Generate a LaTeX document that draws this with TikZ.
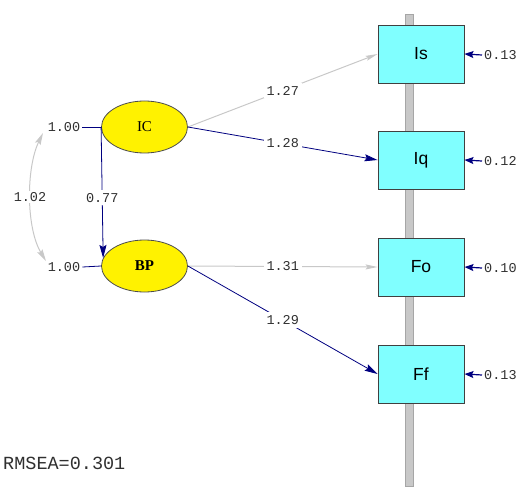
\documentclass[tikz,border=0pt]{standalone}
\usepackage{fontspec}
\setmainfont{Liberation Serif}
\newfontfamily\monof{Liberation Mono}
\newfontfamily\sansf{Liberation Sans}
\usetikzlibrary{arrows.meta,shapes.geometric}
\definecolor{navyc}{HTML}{000080}
\definecolor{lgray}{HTML}{C8C8C8}
\definecolor{txt}{HTML}{303030}
\definecolor{boxfill}{HTML}{80FFFF}
\definecolor{ellfill}{HTML}{FFF200}
\begin{document}
\begin{tikzpicture}[x=1pt,y=-1pt,
  lat/.style={ellipse, draw=black!70, line width=0.8pt, fill=ellfill, minimum width=86pt, minimum height=52pt, inner sep=0pt, font=\fontsize{15}{15}\selectfont},
  obs/.style={rectangle, draw=black!75, line width=0.9pt, fill=boxfill, minimum width=86pt, minimum height=58pt, inner sep=0pt, font=\sansf\fontsize{17.5}{17.5}\selectfont},
  lab/.style={text=txt, inner sep=2pt, font=\monof\fontsize{13.5}{13.5}\selectfont},
  plab/.style={lab, fill=white, inner sep=3pt},
  navyarr/.style={draw=navyc, line width=0.8pt, -{Stealth[length=13pt,width=7pt,inset=2pt]}},
  grayarr/.style={draw=lgray, line width=1pt, -{Stealth[length=12pt,width=5pt,inset=2pt]}},
  errarr/.style={draw=navyc, line width=1.2pt, -{Stealth[length=9pt,width=7pt,inset=1.5pt]}},
  varline/.style={draw=navyc, line width=0.8pt},
  covarr/.style={draw=lgray, line width=1pt, {Stealth[length=12pt,width=6pt,inset=2pt]}-{Stealth[length=12pt,width=6pt,inset=2pt]}}
]
\useasboundingbox (0,0) rectangle (518,486);
% indicator bar
\fill[lgray, draw=black!35, line width=0.5pt] (405,14) rectangle (413,486);
% observed variables
\node[obs] (Is) at (421,54) {Is};
\node[obs] (Iq) at (421,160) {Iq};
\node[obs] (Fo) at (421,267) {Fo};
\node[obs] (Ff) at (421,374) {Ff};
% latent variables
\node[lat] (IC) at (144.5,127) {IC};
\node[lat] (BP) at (144.5,266) {\textbf{BP}};
% error variances
\node[lab, anchor=west] (eIs) at (482,55) {0.13};
\node[lab, anchor=west] (eIq) at (482,161) {0.12};
\node[lab, anchor=west] (eFo) at (482,268) {0.10};
\node[lab, anchor=west] (eFf) at (482,375) {0.13};
\draw[errarr] (eIs.west) -- (Is.east);
\draw[errarr] (eIq.west) -- (Iq.east);
\draw[errarr] (eFo.west) -- (Fo.east);
\draw[errarr] (eFf.west) -- (Ff.east);
% loadings
\draw[grayarr] (IC.east) -- node[plab] {1.27} (Is.west);
\draw[navyarr] (IC.east) -- node[plab] {1.28} (Iq.west);
\draw[grayarr] (BP.east) -- node[plab] {1.31} (Fo.west);
\draw[navyarr] (BP.east) -- node[plab] {1.29} (Ff.west);
% structural path
\draw[navyarr] (IC.west) -- node[plab, pos=0.54] {0.77} (BP.169);
% latent variances
\node[lab] (vIC) at (64,127) {1.00};
\node[lab] (vBP) at (64,267) {1.00};
\draw[varline] (vIC.east) -- (IC.west);
\draw[varline] (vBP.east) -- (BP.west);
% covariance
\coordinate (c1) at (43,133);
\coordinate (c2) at (46,261);
\draw[covarr] (c1) .. controls (26,168) and (26,228) .. (c2);
\node[plab, inner sep=1pt] (cov) at (30,197) {1.02};
% fit index
\node[anchor=west, text=txt, font=\monof\fontsize{18.5}{18.5}\selectfont, inner sep=0pt] (rmsea) at (3,463) {RMSEA=0.301};
\end{tikzpicture}
\end{document}
